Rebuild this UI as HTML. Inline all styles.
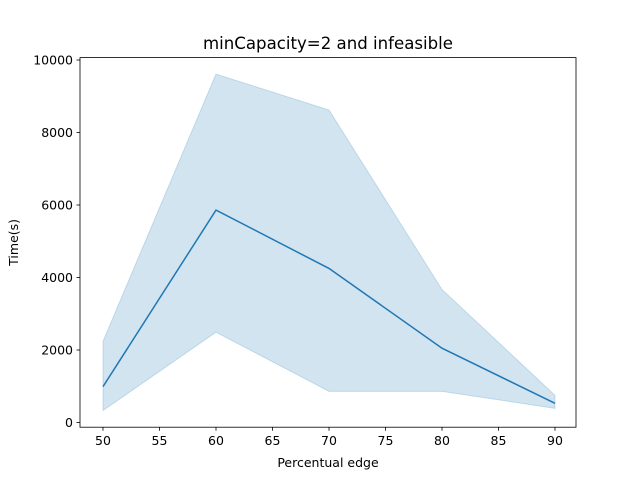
<!DOCTYPE html>
<html><head><meta charset="utf-8"><style>body{margin:0;background:#fff}svg{display:block;font-family:"DejaVu Sans","Liberation Sans",sans-serif}</style></head>
<body>
<svg id="chart" width="640" height="480">
<rect x="0" y="0" width="640" height="480" fill="#fff"/>
<g id="plot"></g>
</svg>
<script>
const xValues = [50, 60, 70, 80, 90];
const meanValues = [990, 5860, 4250, 2050, 530];
const upperValues = [2240, 9610, 8620, 3670, 750];
const lowerValues = [330, 2490, 860, 860, 390];
const xTicks = [50, 55, 60, 65, 70, 75, 80, 85, 90];
const yTicks = [0, 2000, 4000, 6000, 8000, 10000];

const L=80,R=576,T=57.6,B=427.2;
const xs=v=>103+(v-50)*(555-103)/40;
const ys=v=>422.5-(v)*(422.5-60)/10000;
const NS='http://www.w3.org/2000/svg';
const g=document.getElementById('plot');
function mk(t,a,txt){const e=document.createElementNS(NS,t);for(const k in a)e.setAttribute(k,a[k]);if(txt!==undefined)e.textContent=txt;g.appendChild(e);return e;}

let pts=xValues.map((x,i)=>xs(x)+','+ys(upperValues[i]));
for(let i=xValues.length-1;i>=0;i--)pts.push(xs(xValues[i])+','+ys(lowerValues[i]));
const band=mk('polygon',{points:pts.join(' '),fill:'#1f77b4','fill-opacity':0.2,stroke:'#1f77b4','stroke-opacity':0.2});



const line=mk('polyline',{points:xValues.map((x,i)=>xs(x)+','+ys(meanValues[i])).join(' '),fill:'none',stroke:'#1f77b4','stroke-width':1.5});



const frame=mk('rect',{x:L,y:T,width:R-L,height:B-T,fill:'none',stroke:'#000','stroke-width':0.8});



xTicks.forEach(v=>{
  const x=xs(v);
  const tk=mk('line',{x1:x,x2:x,y1:B,y2:B+3.5,stroke:'#000','stroke-width':0.8});
  
  
  const t=mk('text',{x:x,y:B+18,'text-anchor':'middle','font-size':12.5},v);
  
  
});
yTicks.forEach(v=>{
  const y=ys(v);
  const tk=mk('line',{x1:L-3.5,x2:L,y1:y,y2:y,stroke:'#000','stroke-width':0.8});
  
  
  const t=mk('text',{x:L-7,y:y+4.5,'text-anchor':'end','font-size':12.5},v);
  
  
});
const xt=mk('text',{x:(L+R)/2,y:467,'text-anchor':'middle','font-size':12.5},'Percentual edge');


const yt=mk('text',{x:18,y:(T+B)/2,'text-anchor':'middle','font-size':12.5,transform:'rotate(-90 18 '+((T+B)/2)+')'},'Time(s)');


const tt=mk('text',{x:(L+R)/2,y:49,'text-anchor':'middle','font-size':16.6},'minCapacity=2 and infeasible');


</script>
</body></html>
